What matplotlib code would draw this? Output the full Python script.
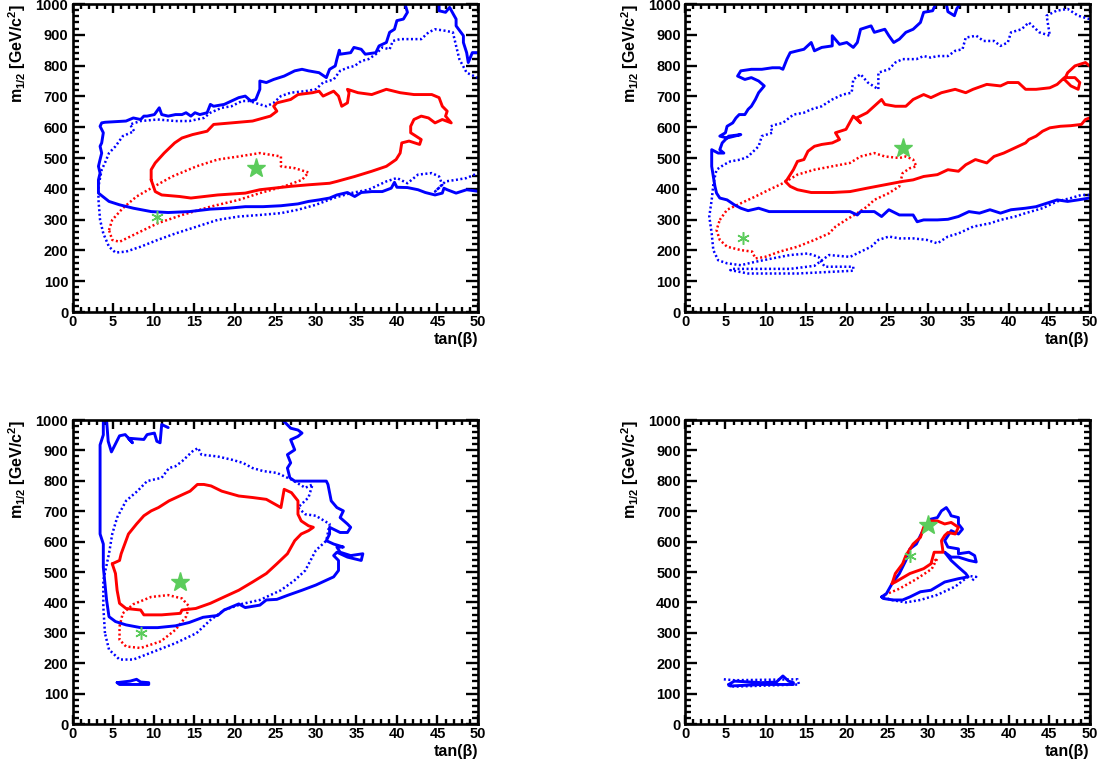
import matplotlib
matplotlib.use("Agg")
import matplotlib.pyplot as plt
import numpy as np

# ---------------------------------------------------------------------------
# Contour data: (tan(beta), m_1/2) vertices
# ---------------------------------------------------------------------------

# Panel 1 (top left)
p1_blue_solid = [
    (41.0, 1000), (41.3, 973), (40.8, 951), (40.0, 946), (39.7, 918), (39.1, 908),
    (38.7, 875), (37.8, 864), (37.4, 842), (36.1, 837), (35.6, 853), (34.7, 859),
    (34.3, 842), (33.0, 837), (32.9, 850), (32.6, 821), (32.4, 799), (31.7, 788),
    (31.3, 761), (30.4, 777), (29.1, 783), (28.3, 788), (27.4, 783), (26.1, 766),
    (24.8, 755), (23.9, 745), (23.1, 750), (23.1, 723), (22.6, 690), (22.0, 685),
    (21.3, 701), (20.5, 696), (19.6, 685), (18.7, 674), (17.4, 668), (17.0, 674),
    (16.6, 647), (15.7, 641), (15.1, 647), (14.6, 636), (14.0, 647), (13.5, 641),
    (12.7, 641), (11.8, 636), (11.0, 641), (10.7, 663), (10.1, 641), (9.2, 636),
    (8.8, 636), (8.4, 625), (7.5, 630), (6.6, 620), (4.0, 616), (3.6, 614),
    (3.4, 603), (3.8, 582), (3.6, 549), (3.4, 538), (3.6, 516), (3.4, 495),
    (3.2, 473), (3.4, 451), (3.2, 429), (3.2, 386), (4.5, 359), (5.8, 348),
    (7.5, 337), (9.7, 326), (11.8, 323), (14.4, 326), (17.0, 334), (19.2, 337),
    (21.3, 342), (23.5, 342), (25.7, 345), (27.8, 351), (29.1, 359), (30.4, 364),
    (31.7, 370), (32.6, 380), (33.9, 388), (34.8, 375), (35.6, 388), (36.9, 391),
    (38.2, 391), (39.3, 402), (39.7, 421), (40.0, 405), (41.3, 404), (42.6, 397),
    (43.5, 388), (44.7, 380), (45.6, 386), (45.8, 402), (46.2, 397), (47.3, 386),
    (48.6, 397), (50.0, 392),
]
p1_blue_solid_b = [
    (45.2, 1000), (45.2, 978), (46.0, 973), (46.5, 989), (47.0, 965), (47.3, 951),
    (47.3, 929), (48.2, 897), (48.2, 875), (48.6, 842), (48.8, 810), (49.3, 842),
    (50.0, 842),
]
p1_blue_dot = [
    (50.0, 760), (48.6, 777), (47.7, 821), (47.3, 864), (46.9, 908), (46.0, 913),
    (44.7, 918), (43.9, 908), (43.0, 886), (41.7, 886), (40.4, 886), (39.5, 880),
    (39.1, 853), (38.2, 859), (37.4, 837), (36.5, 821), (35.6, 815), (34.8, 799),
    (33.9, 793), (33.0, 783), (32.2, 755), (30.9, 745), (30.0, 723), (28.7, 717),
    (26.9, 712), (25.7, 701), (24.8, 679), (23.9, 668), (23.1, 674), (21.8, 685),
    (20.9, 685), (19.6, 668), (18.4, 663), (17.0, 647), (16.2, 630), (14.4, 620),
    (12.7, 620), (10.5, 625), (8.4, 620), (7.1, 609), (7.6, 587), (6.2, 571),
    (5.3, 538), (4.5, 516), (4.0, 484), (3.6, 462), (3.2, 408), (3.2, 364),
    (3.4, 299), (3.8, 255), (4.5, 212), (5.3, 193), (6.6, 196), (8.4, 212),
    (10.5, 234), (12.7, 255), (15.3, 277), (17.9, 299), (20.5, 310), (23.1, 315),
    (25.7, 321), (27.8, 332), (30.0, 348), (32.2, 370), (34.3, 386), (36.5, 397),
    (38.7, 424), (40.0, 435), (41.3, 418), (42.6, 446), (44.3, 451), (45.2, 440),
    (45.6, 413), (44.7, 391), (46.0, 424), (47.3, 429), (48.6, 435), (50.0, 451),
]
p1_red_solid = [
    (9.7, 429), (9.7, 462), (10.2, 484), (11.3, 516), (12.6, 549), (13.5, 565),
    (14.8, 576), (16.6, 587), (17.4, 609), (19.6, 614), (22.2, 620), (24.4, 636),
    (25.2, 652), (24.8, 668), (25.2, 679), (26.9, 690), (27.8, 706), (29.6, 712),
    (30.4, 717), (30.9, 701), (32.2, 717), (32.8, 701), (33.2, 668), (33.9, 679),
    (34.1, 712), (33.9, 723), (35.2, 712), (36.9, 706), (38.7, 723), (40.4, 712),
    (42.1, 706), (44.3, 706), (45.2, 696), (45.6, 668), (46.2, 652), (46.0, 636),
    (46.7, 614), (45.6, 625), (44.7, 614), (43.9, 630), (43.0, 636), (42.1, 625),
    (41.7, 603), (41.7, 582), (43.0, 560), (42.8, 544), (41.5, 555), (40.6, 549),
    (40.4, 516), (39.9, 495), (38.7, 473), (36.9, 457), (34.8, 440), (32.6, 424),
    (31.7, 418), (29.1, 413), (26.9, 408), (24.8, 402), (23.1, 397), (21.3, 386),
    (17.9, 380), (14.6, 370), (13.2, 375), (11.0, 380), (10.2, 391), (9.7, 429),
]
p1_red_dot = [
    (4.5, 266), (4.9, 299), (6.2, 337), (7.9, 375), (10.1, 408), (12.3, 440),
    (15.3, 473), (17.9, 495), (20.5, 505), (23.1, 516), (25.7, 505), (25.7, 473),
    (27.4, 467), (29.1, 453), (28.3, 429), (26.1, 408), (23.1, 386), (20.5, 364),
    (17.0, 342), (13.5, 315), (10.5, 288), (7.9, 255), (5.8, 228), (4.9, 234),
    (4.5, 266),
]
p1_best = (22.6, 467)
p1_alt = (10.4, 308)

# Panel 2 (top right)
p2_blue_solid = [
    (31.0, 1000), (30.6, 978), (29.5, 973), (29.1, 940), (28.2, 918), (27.3, 908),
    (26.5, 886), (25.8, 875), (25.2, 897), (24.7, 918), (23.4, 908), (23.0, 929),
    (21.7, 918), (21.3, 875), (20.8, 859), (20.0, 875), (19.1, 869), (18.2, 897),
    (18.2, 864), (16.9, 859), (16.0, 848), (15.6, 875), (14.7, 853), (13.9, 848),
    (13.0, 842), (12.6, 821), (12.1, 788), (11.7, 793), (10.8, 793), (9.5, 788),
    (8.2, 788), (6.9, 783), (6.5, 766), (7.4, 755), (8.2, 761), (9.1, 750),
    (9.8, 734), (9.1, 712), (8.7, 690), (8.2, 668), (7.8, 658), (7.4, 641),
    (6.7, 641), (6.3, 630), (5.9, 614), (5.2, 603), (5.0, 582), (4.3, 571),
    (5.2, 565), (6.9, 576), (5.4, 571), (4.6, 549), (4.3, 527), (4.8, 516),
    (4.1, 516), (3.3, 527), (3.3, 473), (3.5, 440), (3.7, 408), (3.9, 386),
    (4.3, 370), (5.2, 364), (6.1, 348), (6.9, 337), (7.8, 329), (9.1, 337),
    (10.4, 326), (13.9, 326), (18.2, 326), (20.4, 326), (21.3, 315), (21.7, 326),
    (23.4, 326), (24.3, 310), (25.2, 332), (26.5, 315), (28.2, 315), (28.7, 293),
    (29.5, 299), (31.2, 299), (32.5, 301), (33.8, 310), (35.1, 326), (36.4, 321),
    (37.7, 332), (39.0, 321), (40.3, 332), (42.1, 337), (43.4, 342), (44.7, 353),
    (46.0, 364), (47.3, 359), (48.6, 364), (50.0, 370),
]
p2_blue_solid_b = [
    (32.3, 1000), (32.5, 975), (33.3, 962), (33.6, 985), (34.0, 1000),
]
p2_blue_dot = [
    (50.0, 951), (48.6, 962), (47.3, 984), (45.9, 978), (44.7, 962), (45.1, 897),
    (43.8, 908), (42.5, 940), (41.6, 918), (40.3, 908), (39.9, 875), (39.0, 864),
    (38.2, 880), (36.9, 880), (36.0, 897), (34.7, 891), (34.3, 853), (33.4, 848),
    (32.5, 831), (31.2, 831), (30.4, 826), (29.5, 831), (28.6, 821), (26.9, 821),
    (26.0, 810), (25.2, 788), (23.9, 777), (23.9, 723), (22.6, 745), (21.7, 772),
    (20.8, 755), (20.6, 712), (19.5, 706), (18.2, 690), (16.9, 668), (15.6, 658),
    (14.7, 647), (13.4, 641), (12.1, 614), (11.3, 609), (10.6, 603), (10.8, 582),
    (9.5, 571), (9.1, 538), (7.8, 505), (6.9, 495), (5.6, 489), (4.8, 478),
    (3.9, 462), (3.7, 440), (3.5, 413), (3.3, 364), (3.0, 310), (3.3, 255),
    (3.5, 201), (4.1, 168), (5.2, 158), (6.9, 152), (8.7, 163), (10.8, 174),
    (13.0, 185), (15.2, 190), (16.5, 179), (16.9, 160), (17.3, 147), (20.8, 147),
    (20.8, 134), (13.9, 125), (7.8, 125), (5.6, 136), (5.8, 140), (13.0, 140),
    (16.0, 150), (17.8, 185), (20.4, 179), (23.0, 212), (23.9, 234), (25.2, 245),
    (26.5, 239), (28.2, 239), (29.9, 234), (31.2, 223), (32.5, 245), (33.8, 255),
    (35.6, 277), (37.7, 288), (39.0, 299), (40.8, 310), (42.1, 321), (44.2, 337),
    (46.0, 359), (47.7, 370), (49.0, 380), (50.0, 380),
]
p2_red_solid = [
    (50.0, 799), (49.5, 810), (48.2, 799), (47.3, 777), (46.9, 755), (47.7, 734),
    (48.6, 723), (48.8, 745), (48.2, 761), (46.9, 761), (46.0, 739), (45.1, 728),
    (43.4, 723), (42.1, 723), (41.2, 745), (39.9, 745), (39.0, 734), (37.3, 739),
    (35.6, 723), (34.7, 712), (33.4, 723), (31.7, 712), (30.4, 696), (29.5, 706),
    (28.2, 690), (27.3, 668), (26.0, 668), (24.7, 674), (24.3, 690), (22.5, 647),
    (21.2, 630), (21.7, 614), (20.8, 636), (19.9, 593), (18.6, 582), (19.1, 560),
    (18.2, 549), (16.9, 544), (16.0, 538), (15.2, 522), (14.7, 495), (13.9, 489),
    (13.4, 462), (12.6, 429), (12.4, 424), (13.0, 408), (13.9, 397), (15.6, 388),
    (18.2, 388), (20.4, 391), (22.5, 402), (24.7, 413), (26.9, 424), (28.2, 429),
    (29.5, 440), (31.2, 446), (32.5, 462), (33.8, 457), (34.7, 478), (35.9, 495),
    (37.3, 484), (38.2, 505), (39.4, 516), (40.3, 527), (41.2, 538), (42.1, 549),
    (42.5, 560), (43.4, 571), (44.2, 587), (45.1, 598), (46.4, 603), (47.7, 605),
    (49.0, 609), (49.5, 625), (50.0, 630),
]
p2_red_dot = [
    (4.3, 299), (5.2, 332), (6.9, 353), (8.7, 375), (10.4, 397), (12.1, 418),
    (13.9, 446), (16.0, 462), (18.2, 473), (20.4, 484), (21.7, 505), (23.4, 516),
    (24.7, 505), (26.5, 500), (27.3, 505), (28.2, 495), (28.6, 473), (27.8, 467),
    (26.9, 451), (26.5, 408), (25.2, 386), (23.4, 364), (22.5, 342), (21.3, 321),
    (19.9, 299), (18.6, 277), (17.8, 255), (16.0, 234), (13.9, 212), (11.7, 196),
    (9.9, 179), (8.7, 174), (8.3, 196), (6.9, 201), (5.2, 212), (4.3, 234),
    (3.9, 266), (4.3, 299),
]
p2_best = (26.9, 533)
p2_alt = (7.2, 239)

# Panel 3 (bottom left)
p3_blue_solid = [
    (3.8, 1000), (3.8, 951), (3.4, 918), (3.4, 625), (3.8, 592), (3.8, 516),
    (4.0, 462), (4.2, 408), (4.5, 353), (5.3, 337), (6.6, 326), (8.4, 317),
    (10.5, 317), (12.7, 323), (14.4, 334), (16.1, 351), (17.9, 357), (18.7, 375),
    (20.5, 395), (21.3, 383), (23.1, 391), (23.9, 408), (25.2, 410), (26.6, 424),
    (28.3, 440), (30.0, 457), (31.3, 473), (32.2, 484), (32.8, 505), (32.8, 538),
    (32.2, 554), (32.6, 565), (33.9, 549), (35.6, 538), (35.8, 560), (34.3, 554),
    (33.0, 565), (32.6, 582), (33.4, 582), (32.2, 592), (31.3, 603), (31.7, 625),
    (31.7, 647), (33.0, 630), (33.9, 630), (34.3, 647), (33.9, 658), (33.0, 679),
    (33.4, 701), (32.6, 712), (31.9, 734), (31.5, 788), (31.3, 799), (30.0, 799),
    (27.4, 799), (26.8, 810), (26.5, 842), (26.9, 859), (26.5, 886), (27.4, 902),
    (26.9, 935), (27.8, 946), (28.3, 957), (27.8, 967), (26.9, 973), (26.1, 995),
    (25.9, 1000),
]
p3_blue_solid_b = [
    (4.2, 1000), (4.4, 930), (4.8, 895), (5.8, 948), (6.5, 952), (7.4, 925),
    (6.9, 940), (8.8, 936), (9.2, 952), (10.1, 957), (10.4, 930), (10.8, 925),
    (11.0, 985), (11.8, 975),
]
p3_blue_solid_c = [
    (5.5, 136), (7.1, 141), (7.9, 147), (8.4, 138), (9.4, 136), (9.4, 130),
    (8.4, 130), (5.8, 130), (5.5, 136),
]
p3_blue_dot = [
    (4.0, 299), (3.8, 386), (3.8, 473), (4.5, 560), (4.9, 625), (5.5, 679),
    (6.6, 734), (8.0, 766), (9.2, 799), (11.0, 810), (11.9, 842), (12.7, 848),
    (13.5, 864), (14.8, 897), (15.5, 908), (15.9, 886), (17.9, 880), (19.7, 869),
    (21.0, 859), (22.2, 842), (23.5, 832), (25.2, 826), (27.0, 804), (28.7, 777),
    (29.6, 788), (29.1, 745), (27.8, 712), (28.7, 690), (30.0, 685), (31.7, 658),
    (31.3, 603), (30.0, 571), (28.7, 505), (27.4, 473), (25.7, 440), (23.1, 408),
    (20.9, 395), (18.7, 375), (17.0, 342), (15.3, 299), (12.7, 266), (10.1, 239),
    (7.5, 212), (5.8, 212), (4.5, 245), (4.0, 299),
]
p3_red_solid = [
    (4.9, 527), (5.8, 538), (6.0, 560), (6.9, 625), (7.9, 658), (8.8, 685),
    (9.7, 701), (10.6, 712), (11.9, 734), (13.6, 755), (14.5, 766), (15.4, 788),
    (16.2, 788), (17.1, 783), (18.4, 766), (20.5, 750), (22.2, 745), (23.9, 739),
    (25.7, 712), (26.1, 772), (27.0, 761), (27.8, 734), (27.8, 690), (28.2, 668),
    (29.1, 652), (29.7, 647), (29.1, 636), (28.2, 625), (27.4, 603), (26.5, 560),
    (25.2, 527), (23.9, 495), (22.2, 467), (20.5, 440), (18.7, 418), (17.0, 397),
    (15.2, 380), (13.5, 375), (13.3, 364), (11.0, 359), (8.8, 359), (8.4, 375),
    (6.6, 380), (5.8, 397), (5.5, 440), (5.3, 495), (4.9, 527),
]
p3_red_dot = [
    (5.8, 321), (6.2, 364), (7.5, 394), (9.7, 418), (11.8, 424), (13.5, 413),
    (14.4, 386), (14.0, 353), (12.7, 310), (10.9, 272), (8.4, 250), (6.6, 255),
    (5.8, 277), (5.8, 321),
]
p3_best = (13.2, 467)
p3_alt = (8.5, 299)

# Panel 4 (bottom right)
p4_blue_solid = [
    (24.3, 418), (24.9, 429), (25.6, 462), (26.5, 495), (27.3, 538), (27.8, 576),
    (28.6, 592), (29.1, 620), (29.5, 641), (29.9, 647), (30.4, 674), (31.2, 679),
    (31.7, 701), (32.3, 712), (32.7, 696), (32.9, 685), (33.8, 679), (33.8, 658),
    (34.3, 641), (33.8, 625), (32.9, 636), (32.1, 603), (32.5, 582), (33.8, 576),
    (33.8, 560), (35.1, 565), (35.8, 554), (36.0, 533), (35.1, 538), (33.8, 549),
    (32.9, 549), (32.1, 565), (32.9, 538), (33.8, 516), (34.7, 495), (35.0, 484),
    (33.8, 478), (32.1, 467), (30.4, 440), (29.1, 435), (27.8, 418), (26.9, 408),
    (25.8, 408), (25.2, 410), (24.5, 413), (24.3, 418),
]
p4_blue_solid_b = [
    (5.4, 130), (6.1, 141), (9.5, 136), (11.3, 138), (12.1, 158), (12.8, 141),
    (13.4, 136), (13.4, 130), (9.5, 130), (5.6, 125), (5.4, 130),
]
p4_blue_dot = [
    (24.5, 418), (25.5, 408), (27.3, 400), (29.1, 408), (31.2, 425), (33.4, 452),
    (35.1, 487), (36.0, 484), (35.4, 470),
]
p4_blue_dot_b = [
    (4.8, 147), (6.1, 144), (13.9, 147), (14.1, 130), (6.1, 123), (5.2, 128),
]
p4_red_solid = [
    (25.6, 462), (26.0, 495), (26.9, 527), (27.3, 554), (28.2, 592), (29.1, 614),
    (29.5, 647), (30.2, 668), (31.2, 668), (32.1, 658), (32.9, 663), (33.8, 647),
    (33.4, 625), (32.5, 630), (32.1, 620), (31.7, 603), (31.9, 565), (30.8, 565),
    (30.4, 527), (29.5, 511), (27.8, 495), (26.0, 467), (25.6, 462),
]
p4_red_dot = [
    (24.7, 425), (26.5, 445), (28.5, 475), (30.5, 510), (31.2, 545), (30.4, 527),
]
p4_best = (30.0, 655)
p4_alt = (27.8, 551)

x_range = (0, 50)
y_range = (0, 1000)
x_label = "tan(β)"
y_label = r"m$_{\mathbf{1/2}}$ [GeV/c$^{\mathbf{2}}$]"

# ---------------------------------------------------------------------------
# Styling
# ---------------------------------------------------------------------------
plt.rcParams["font.family"] = ["Liberation Sans", "DejaVu Sans"]
plt.rcParams["font.weight"] = "bold"
plt.rcParams["mathtext.fontset"] = "custom"
plt.rcParams["mathtext.rm"] = "Liberation Sans:bold"
plt.rcParams["mathtext.bf"] = "Liberation Sans:bold"
plt.rcParams["mathtext.it"] = "Liberation Sans:bold"

BLUE = "#0000ff"
RED = "#ff0000"
GREEN = "#5ccc5c"
DOTS = (0, (0.8, 1.0))

fig = plt.figure(figsize=(11.01, 7.64), dpi=100)
W, H = 1101, 764


def add_axes(x0, x1, ytop, ybot):
    return fig.add_axes([x0 / W, 1 - ybot / H, (x1 - x0) / W, (ybot - ytop) / H])


axes_specs = [
    (72.5, 478.0, 4.0, 312.0),
    (685.0, 1089.5, 4.0, 312.0),
    (72.5, 478.0, 420.0, 724.0),
    (685.0, 1089.5, 420.0, 724.0),
]

panels = [
    dict(solid_blue=[p1_blue_solid, p1_blue_solid_b], dot_blue=[p1_blue_dot],
         solid_red=[p1_red_solid], dot_red=[p1_red_dot], best=p1_best, alt=p1_alt),
    dict(solid_blue=[p2_blue_solid, p2_blue_solid_b], dot_blue=[p2_blue_dot],
         solid_red=[p2_red_solid], dot_red=[p2_red_dot], best=p2_best, alt=p2_alt),
    dict(solid_blue=[p3_blue_solid, p3_blue_solid_b, p3_blue_solid_c], dot_blue=[p3_blue_dot],
         solid_red=[p3_red_solid], dot_red=[p3_red_dot], best=p3_best, alt=p3_alt),
    dict(solid_blue=[p4_blue_solid, p4_blue_solid_b], dot_blue=[p4_blue_dot, p4_blue_dot_b],
         solid_red=[p4_red_solid], dot_red=[p4_red_dot], best=p4_best, alt=p4_alt),
]


def draw(ax, pts, color, ls, lw):
    arr = np.asarray(pts, dtype=float)
    ax.plot(arr[:, 0], arr[:, 1], color=color, ls=ls, lw=lw,
            solid_joinstyle="round", solid_capstyle="round", clip_on=True)


for spec, pan in zip(axes_specs, panels):
    ax = add_axes(*spec)
    ax.set_xlim(*x_range)
    ax.set_ylim(*y_range)

    for c in pan["dot_blue"]:
        draw(ax, c, BLUE, DOTS, 1.8)
    for c in pan["dot_red"]:
        draw(ax, c, RED, DOTS, 1.8)
    for c in pan["solid_blue"]:
        draw(ax, c, BLUE, "-", 2.1)
    for c in pan["solid_red"]:
        draw(ax, c, RED, "-", 2.1)

    ax.plot([pan["best"][0]], [pan["best"][1]], marker="*", ms=14, color=GREEN,
            mec=GREEN, ls="none", zorder=5)
    ax.plot([pan["alt"][0]], [pan["alt"][1]], marker=(6, 2, 0), ms=9, color=GREEN,
            mec=GREEN, mew=1.1, ls="none", zorder=5)

    ax.set_xticks(np.arange(0, 51, 5))
    ax.set_xticks(np.arange(0, 51, 1), minor=True)
    ax.set_yticks(np.arange(0, 1001, 100))
    ax.set_yticks(np.arange(0, 1001, 20), minor=True)
    ax.tick_params(axis="both", which="both", direction="in",
                   top=True, right=True, labelsize=10.5, width=1.7)
    ax.tick_params(axis="x", which="major", length=6.5, pad=2.5)
    ax.tick_params(axis="x", which="minor", length=3.3)
    ax.tick_params(axis="y", which="major", length=8.6, pad=3)
    ax.tick_params(axis="y", which="minor", length=4.3)
    for lab in ax.get_xticklabels() + ax.get_yticklabels():
        lab.set_fontweight("bold")
    for sp in ax.spines.values():
        sp.set_linewidth(1.9)

    ax.text(1.0, -0.09, x_label, transform=ax.transAxes, ha="right", va="center",
            fontsize=11.5, fontweight="bold")
    ax.text(-0.136, 1.0, y_label, transform=ax.transAxes, ha="center", va="top",
            rotation=90, fontsize=11.5, fontweight="bold")

fig.savefig("out.png", dpi=100)
